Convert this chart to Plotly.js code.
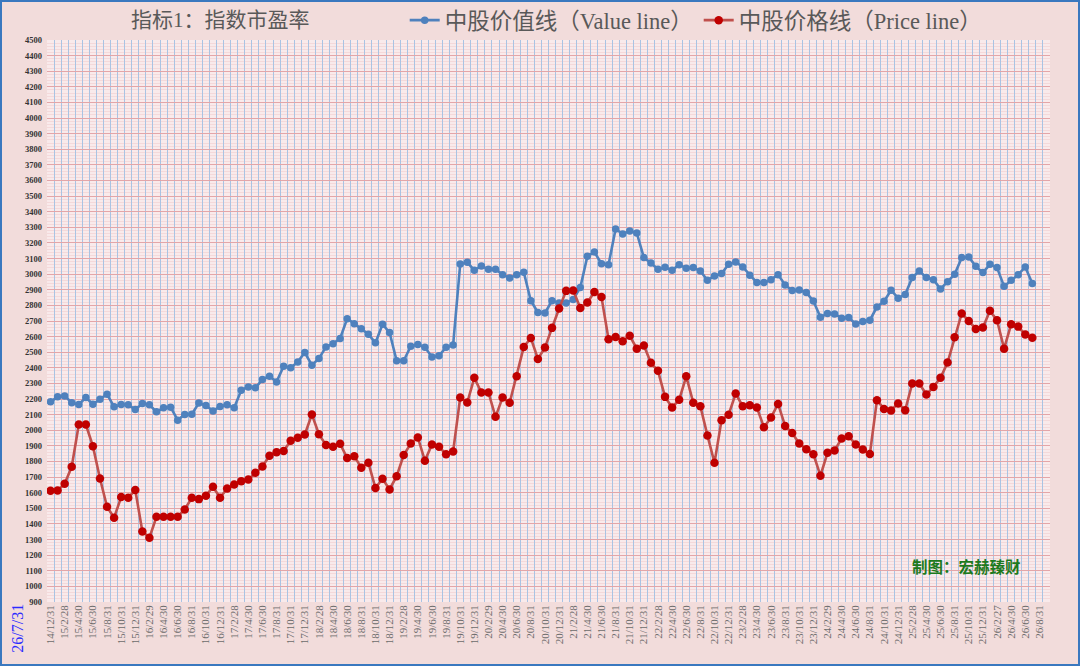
<!DOCTYPE html>
<html>
<head>
<meta charset="utf-8">
<script src="https://cdn.plot.ly/plotly-3.0.1.min.js"></script>
<style>
  html, body { margin: 0; padding: 0; background: #f2dcdb; }
  #frame { width: 1080px; height: 666px; box-sizing: border-box; border: 2px solid #3a78bf; background: #f2dcdb; }
  #chart { width: 1076px; height: 662px; }
</style>
</head>
<body>
<div id="frame"><div id="chart"></div></div>
<script>
// Month-end categories (14/12/31 ... 26/9/30)
const categories = [
  "14/12/31",
  "15/1/31","15/2/28","15/3/31","15/4/30","15/5/31","15/6/30","15/7/31","15/8/31","15/9/30","15/10/31","15/11/30","15/12/31",
  "16/1/31","16/2/29","16/3/31","16/4/30","16/5/31","16/6/30","16/7/31","16/8/31","16/9/30","16/10/31","16/11/30","16/12/31",
  "17/1/31","17/2/28","17/3/31","17/4/30","17/5/31","17/6/30","17/7/31","17/8/31","17/9/30","17/10/31","17/11/30","17/12/31",
  "18/1/31","18/2/28","18/3/31","18/4/30","18/5/31","18/6/30","18/7/31","18/8/31","18/9/30","18/10/31","18/11/30","18/12/31",
  "19/1/31","19/2/28","19/3/31","19/4/30","19/5/31","19/6/30","19/7/31","19/8/31","19/9/30","19/10/31","19/11/30","19/12/31",
  "20/1/31","20/2/29","20/3/31","20/4/30","20/5/31","20/6/30","20/7/31","20/8/31","20/9/30","20/10/31","20/11/30","20/12/31",
  "21/1/31","21/2/28","21/3/31","21/4/30","21/5/31","21/6/30","21/7/31","21/8/31","21/9/30","21/10/31","21/11/30","21/12/31",
  "22/1/31","22/2/28","22/3/31","22/4/30","22/5/31","22/6/30","22/7/31","22/8/31","22/9/30","22/10/31","22/11/30","22/12/31",
  "23/1/31","23/2/28","23/3/31","23/4/30","23/5/31","23/6/30","23/7/31","23/8/31","23/9/30","23/10/31","23/11/30","23/12/31",
  "24/1/31","24/2/29","24/3/31","24/4/30","24/5/31","24/6/30","24/7/31","24/8/31","24/9/30","24/10/31","24/11/30","24/12/31",
  "25/1/31","25/2/28","25/3/31","25/4/30","25/5/31","25/6/30","25/7/31","25/8/31","25/9/30","25/10/31","25/11/30","25/12/31",
  "26/1/31","26/2/27","26/3/31","26/4/30","26/5/31","26/6/30","26/7/31","26/8/31","26/9/30"
];

// 中股价值线 (Value line)
const valueLine = [
  2182,2214,2220,2176,2165,2210,2167,2199,2231,2150,2165,2163,2133,2171,2163,2118,2144,2148,2065,2101,
  2103,2174,2159,2124,2152,2163,2144,2257,2278,2272,2325,2346,2310,2410,2400,2438,2498,2417,2460,2534,
  2555,2588,2715,2683,2651,2615,2560,2679,2626,2445,2445,2538,2549,2532,2470,2477,2532,2547,3065,3076,
  3025,3053,3031,3031,2997,2976,2997,3012,2830,2755,2752,2829,2816,2816,2837,2914,3114,3142,3067,3061,
  3289,3257,3277,3264,3106,3072,3031,3044,3025,3061,3038,3042,3020,2961,2988,3004,3063,3078,3046,2993,
  2946,2946,2965,2997,2931,2895,2899,2882,2828,2724,2748,2745,2718,2722,2681,2696,2705,2790,2826,2897,
  2846,2869,2978,3020,2978,2965,2905,2952,2999,3106,3110,3050,3010,3063,3042,2922,2961,2997,3046,2940
];

// 中股价格线 (Price line)
const priceLine = [
  1612,1614,1657,1766,2037,2037,1898,1691,1510,1440,1572,1568,1617,1352,1312,1446,1446,1446,1446,1493,
  1568,1559,1581,1638,1568,1627,1653,1674,1685,1728,1768,1837,1860,1867,1933,1952,1973,2101,1975,1905,
  1894,1913,1822,1834,1760,1792,1630,1689,1621,1706,1841,1915,1954,1805,1909,1894,1847,1864,2210,2178,
  2336,2242,2242,2086,2210,2176,2346,2534,2591,2457,2530,2656,2780,2893,2896,2784,2818,2886,2854,2583,
  2598,2570,2605,2523,2543,2432,2381,2214,2146,2195,2346,2176,2154,1967,1792,2065,2100,2235,2154,2161,
  2146,2020,2082,2169,2028,1982,1915,1879,1847,1709,1856,1871,1947,1962,1909,1877,1848,2193,2137,2127,
  2172,2129,2300,2300,2229,2278,2336,2434,2596,2748,2700,2649,2658,2765,2705,2523,2679,2664,2613,2592
];

const seriesNames = ["中股价值线（Value line）", "中股价格线（Price line）"];
const chartTitle = "指标1：指数市盈率";
const dataDate = "26/7/31";
const creditText = "制图：宏赫臻财";

// pad series with nulls so every category exists on the axis
function pad(arr) { const out = arr.slice(); while (out.length < categories.length) out.push(null); return out; }

const W_FULL = 1076, H_FULL = 662;
const M = { l: 45.3, r: 27.7, t: 37.5, b: 62, autoexpand: false };
const PW = W_FULL - M.l - M.r, PH = H_FULL - M.t - M.b;
// page pixel -> paper coordinates (page has 2px border)
const px = p => (p - 2 - M.l) / PW;
const py = p => 1 - (p - 2 - M.t) / PH;

const serifCJK = "Liberation Serif, 'Noto Sans CJK SC', serif";

const traces = [
  {
    type: "scatter", mode: "lines+markers", name: seriesNames[0],
    x: categories, y: pad(valueLine),
    line: { color: "#4f81bd", width: 2.6 },
    marker: { color: "#4f81bd", size: 7.5, symbol: "circle" },
    connectgaps: false
  },
  {
    type: "scatter", mode: "lines+markers", name: seriesNames[1],
    x: categories, y: pad(priceLine),
    line: { color: "#c0504d", width: 2.6 },
    marker: { color: "#c00000", size: 8.5, symbol: "circle" },
    connectgaps: false
  }
];

const layout = {
  width: W_FULL, height: H_FULL,
  margin: M,
  paper_bgcolor: "#f2dcdb",
  plot_bgcolor: "#f9eaeb",
  showlegend: true,
  legend: {
    orientation: "h",
    x: px(405), xanchor: "left",
    y: py(20), yanchor: "middle",
    font: { family: serifCJK, size: 22.5, color: "#595959" },
    bgcolor: "rgba(0,0,0,0)",
    itemwidth: 30,
    entrywidth: 249, entrywidthmode: "pixels"
  },
  xaxis: {
    type: "category",
    categoryorder: "array", categoryarray: categories,
    range: [-0.5, categories.length - 0.5],
    tickmode: "linear", tick0: 0, dtick: 1,
    tickson: "boundaries",
    ticklabelstep: 2,
    ticks: "",
    tickangle: -90,
    tickfont: { family: "Liberation Serif, serif", size: 11, color: "#6b6b6b" },
    showgrid: true, gridcolor: "#a9c3e3", gridwidth: 1,
    showline: false, zeroline: false, fixedrange: true
  },
  yaxis: {
    range: [900, 4500],
    tick0: 900, dtick: 100,
    ticks: "",
    tickfont: { family: "Liberation Serif, serif", size: 8.5, color: "#333333", weight: "bold" },
    showgrid: true, gridcolor: "#e3a5a8", gridwidth: 1,
    minor: { dtick: 20, tick0: 900, showgrid: true, gridcolor: "#f4d9da", gridwidth: 1 },
    showline: false, zeroline: false, fixedrange: true,
    ticklabelstandoff: 4
  },
  annotations: [
    {
      text: chartTitle, xref: "paper", yref: "paper",
      x: px(221), y: py(19), xanchor: "center", yanchor: "middle",
      showarrow: false,
      font: { family: serifCJK, size: 21, color: "#595959" }
    },
    {
      text: dataDate, xref: "paper", yref: "paper",
      x: px(18), y: py(628), xanchor: "center", yanchor: "middle",
      textangle: -90, showarrow: false,
      font: { family: "Liberation Serif, serif", size: 16, color: "#2b2bff" }
    },
    {
      text: "<b>" + creditText + "</b>", xref: "paper", yref: "paper",
      x: px(967), y: py(567), xanchor: "center", yanchor: "middle",
      showarrow: false,
      font: { family: serifCJK, size: 15.5, color: "#1d7a1d" }
    }
  ]
};

Plotly.newPlot("chart", traces, layout, { displayModeBar: false, staticPlot: true });
</script>
</body>
</html>
